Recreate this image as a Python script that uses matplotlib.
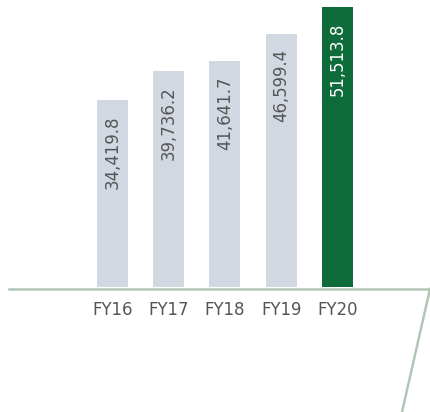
import matplotlib
matplotlib.use("Agg")
import matplotlib.pyplot as plt
from matplotlib.lines import Line2D

years = ["FY16", "FY17", "FY18", "FY19", "FY20"]
values = [34419.8, 39736.2, 41641.7, 46599.4, 51513.8]
labels = ["34,419.8", "39,736.2", "41,641.7", "46,599.4", "51,513.8"]

GREY_BAR = "#d2d8e1"
GREEN = "#0e6b3a"
TEXT = "#555555"
RULE = "#b3c6b5"

plt.rcParams["font.family"] = ["DejaVu Sans"]
plt.rcParams["font.stretch"] = "condensed"

W, H = 430, 412
fig = plt.figure(figsize=(W / 100, H / 100), dpi=100)
ax = fig.add_axes([0, 0, 1, 1])
ax.axis("off")

# pixel mapping: bar 0 centred at x=112.5px, 56.25px pitch; baseline 287px from top
pitch = 56.25
ax.set_xlim(-112.5 / pitch, (W - 112.5) / pitch)
px_per_unit = 5.43 / 1000
ax.set_ylim(-(H - 287) / px_per_unit, 287 / px_per_unit)

colors = [GREY_BAR] * 4 + [GREEN]
xs = range(len(years))
ax.bar(xs, values, width=31 / pitch, color=colors, zorder=2)

for i, (v, lab) in enumerate(zip(values, labels)):
    c = "white" if i == len(values) - 1 else TEXT
    ax.annotate(lab, (i, v), xytext=(0, -11), textcoords="offset points",
                rotation=90, ha="center", va="top", fontsize=13.2, color=c)
    ax.annotate(years[i], (i, 0), xytext=(0, -16.5), textcoords="offset points",
                ha="center", va="center", fontsize=13.2, color=TEXT)

# baseline rule with the slanted drop on the right
fig.add_artist(Line2D([9 / W, 1.0], [1 - 289 / H, 1 - 289 / H],
                      transform=fig.transFigure, color=RULE, lw=1.8))
fig.add_artist(Line2D([1.0, 402 / W], [1 - 289 / H, 1 - 412 / H],
                      transform=fig.transFigure, color=RULE, lw=1.8))

fig.savefig("out.png", dpi=100)
